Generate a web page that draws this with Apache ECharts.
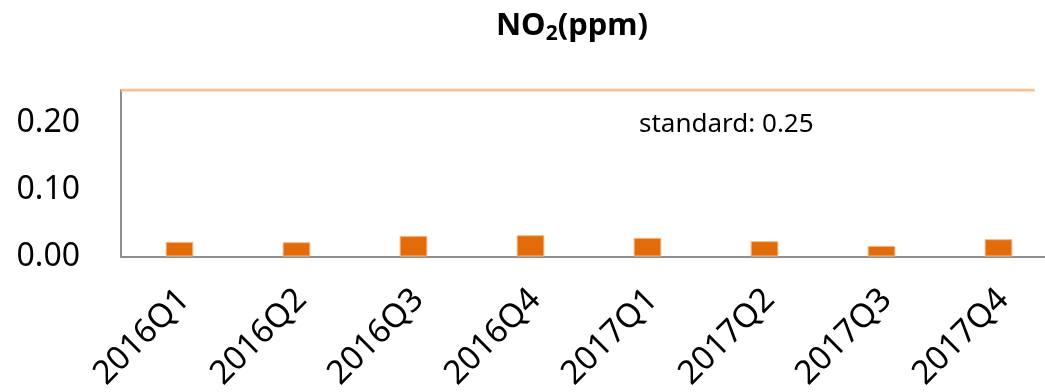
<!DOCTYPE html>
<html>
<head>
<meta charset="utf-8">
<script src="https://cdn.jsdelivr.net/npm/echarts@6/dist/echarts.min.js"></script>
<style>
html,body{margin:0;padding:0;background:#fff;}
#chart{width:1045px;height:392px;}
</style>
</head>
<body>
<div id="chart"></div>
<script>
const categories = ['2016Q1','2016Q2','2016Q3','2016Q4','2017Q1','2017Q2','2017Q3','2017Q4'];
const no2Values = [0.022, 0.0215, 0.031, 0.032, 0.028, 0.023, 0.016, 0.026];
const standardValue = 0.25;
const standardSpan = [0, 7.81];
const yTicks = [0, 0.1, 0.2];

const FONT = '"Noto Sans", "Open Sans", sans-serif';
const chart = echarts.init(document.getElementById('chart'), null, {renderer: 'canvas'});
chart.setOption({
  animation: false,
  backgroundColor: '#ffffff',
  textStyle: {fontFamily: FONT},
  title: [{
    text: '{a|NO}{s|2}{a|(ppm)}',
    left: 567,
    textAlign: 'center',
    top: 0,
    textStyle: {
      rich: {
        a: {fontFamily: FONT, fontSize: 31, fontWeight: 'bold', color: '#000', lineHeight: 42},
        s: {fontFamily: FONT, fontSize: 21, fontWeight: 'bold', color: '#000', lineHeight: 42, padding: [16, 0, 0, 0]}
      }
    }
  }, {
    text: 'standard: ' + standardValue.toFixed(2),
    left: 634,
    top: 107,
    textStyle: {fontFamily: FONT, fontSize: 26, fontWeight: 'normal', color: '#000'}
  }],
  grid: {left: 121, width: 936, top: 90, bottom: 135.5, containLabel: false, outerBoundsMode: 'none'},
  xAxis: [{
    type: 'category',
    data: categories,
    boundaryGap: true,
    axisLine: {show: true, lineStyle: {color: '#8f8f8f', width: 2}},
    axisTick: {show: false},
    axisLabel: {rotate: 45, fontSize: 33, color: '#000', margin: 33, fontFamily: FONT, interval: 0,
                align: 'right', verticalAlign: 'top', lineHeight: 14}
  }, {
    type: 'value',
    min: 0,
    max: categories.length,
    show: false
  }],
  yAxis: {
    type: 'value',
    min: 0,
    max: standardValue,
    interval: 0.1,
    splitLine: {show: false},
    axisTick: {show: false},
    axisLine: {show: true, lineStyle: {color: '#8f8f8f', width: 2}},
    axisLabel: {
      fontSize: 32, color: '#000', margin: 41, fontFamily: FONT, showMaxLabel: false,
      formatter: v => yTicks.some(t => Math.abs(t - v) < 1e-9) ? v.toFixed(2) : ''
    }
  },
  series: [{
    type: 'bar',
    data: no2Values,
    barWidth: '23.7%',
    itemStyle: {color: '#E36C0A', borderColor: '#F6B98A', borderWidth: 1}
  }, {
    type: 'line',
    xAxisIndex: 1,
    data: [[standardSpan[0], standardValue], [standardSpan[1], standardValue]],
    symbol: 'none',
    lineStyle: {color: '#FAC090', width: 3},
    z: 5
  }]
});
</script>
</body>
</html>
